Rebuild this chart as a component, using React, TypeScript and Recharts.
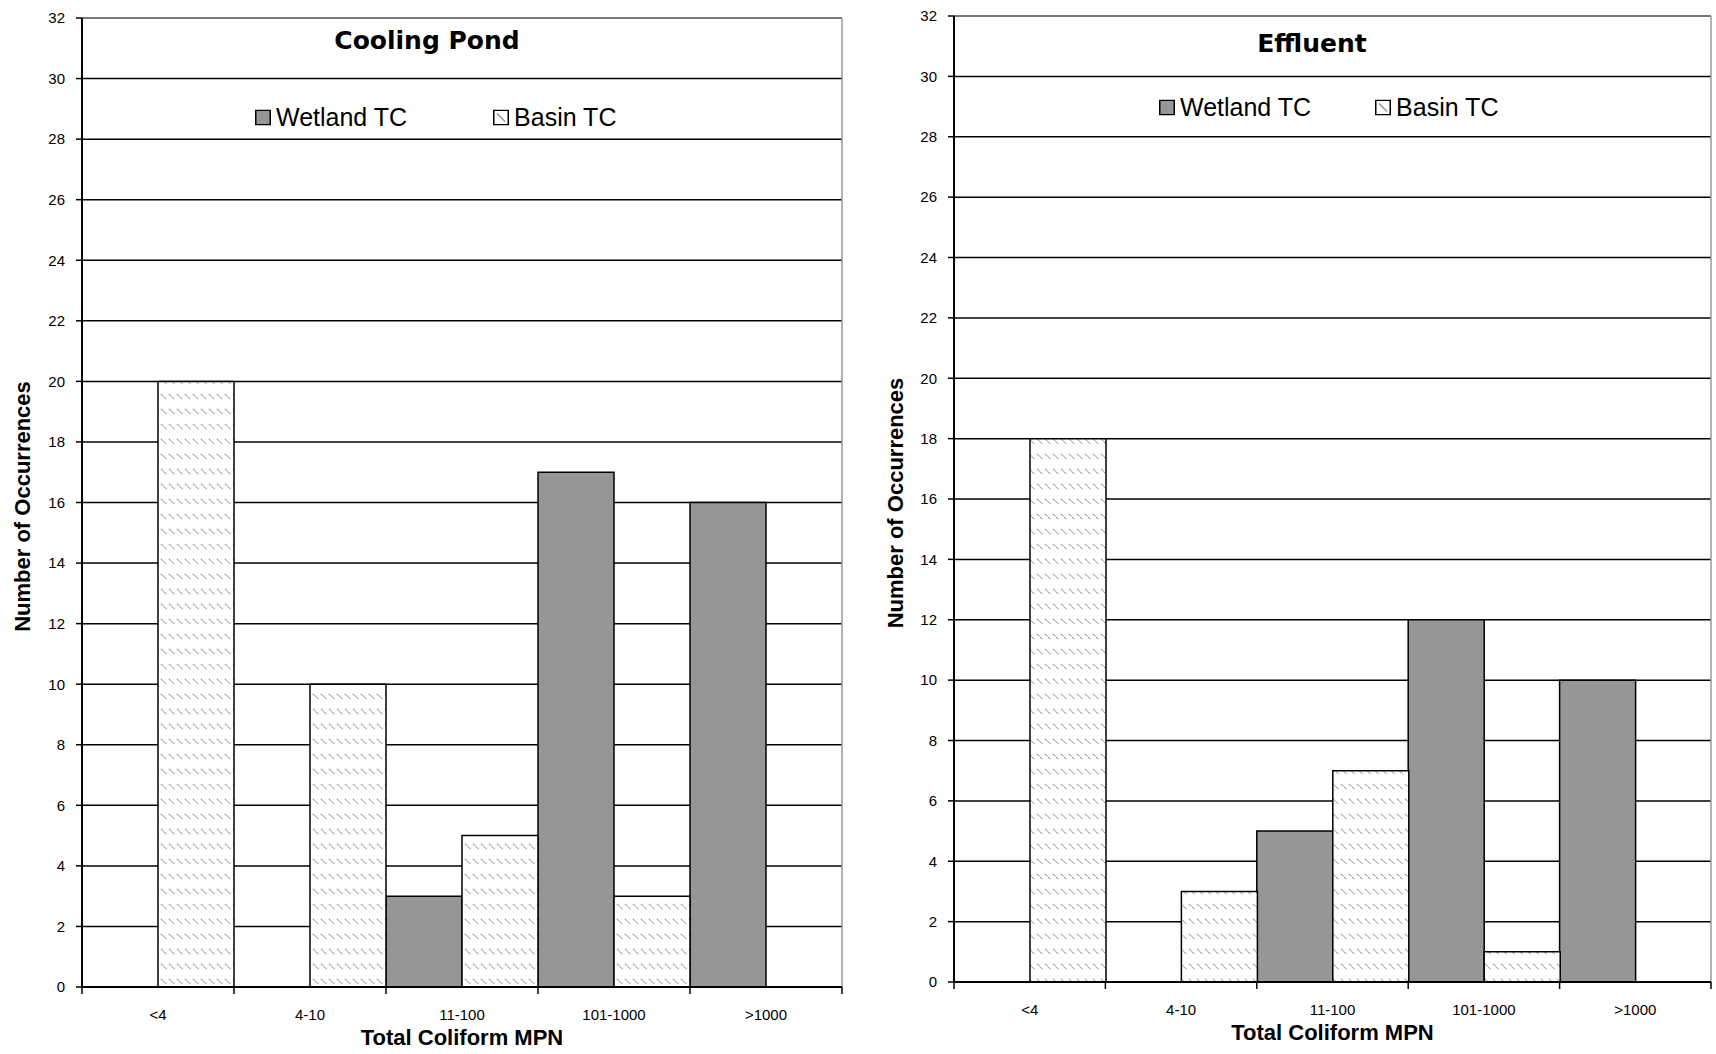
import React from "react";
import { Bar, BarChart, CartesianGrid, ReferenceLine, XAxis, YAxis } from "recharts";

const categories = ["<4", "4-10", "11-100", "101-1000", ">1000"];
const coolingWetland = [0, 0, 3, 17, 16];
const coolingBasin = [20, 10, 5, 3, 0];
const effluentWetland = [0, 0, 5, 12, 10];
const effluentBasin = [18, 3, 7, 1, 0];
const yTicks = [0, 2, 4, 6, 8, 10, 12, 14, 16, 18, 20, 22, 24, 26, 28, 30, 32];
const seriesNames = ["Wetland TC", "Basin TC"];

const ARIAL = "'Liberation Sans', Arial, sans-serif";
const TAHOMA = "'DejaVu Sans', Verdana, sans-serif";

const buildRows = (wetland: number[], basin: number[]) =>
	categories.map((name, i) => ({ name, wetland: wetland[i], basin: basin[i] }));

const makeXTick = (bandWidth: number, count: number) => (props: any) => {
	const { x, y, payload, index } = props;
	const left = x - bandWidth / 2;
	return (
		<g>
			<line x1={left} y1={y} x2={left} y2={y + 7} stroke="#000" strokeWidth={1.5} />
			{index === count - 1 && (
				<line x1={left + bandWidth} y1={y} x2={left + bandWidth} y2={y + 7} stroke="#000" strokeWidth={1.5} />
			)}
			<text x={x} y={y + 27} textAnchor="middle" dominantBaseline="central" fontSize={15} fontFamily={ARIAL} fill="#000">
				{payload.value}
			</text>
		</g>
	);
};

const Swatch = ({ hatched }: { hatched: boolean }) => (
	<svg width={16} height={16} style={{ display: "block" }}>
		<rect x={0.75} y={0.75} width={14.5} height={14.5} fill={hatched ? "#fff" : "#969696"} stroke="#000" strokeWidth={1.5} />
		{hatched && <line x1={4} y1={4} x2={12} y2={12} stroke="#8c8c8c" strokeWidth={1.3} />}
	</svg>
);

interface PanelProps {
	id: string;
	title: string;
	wetland: number[];
	basin: number[];
	left: number;
	width: number;
	top: number;
	right: number;
	yAxisWidth: number;
	xAxisHeight: number;
	titleAt: [number, number];
	legendAt: [number, number];
	legendGap: number;
	yTitleX: number;
}

const Panel = (p: PanelProps) => {
	const height = 1054;
	const plotWidth = p.width - p.right - p.yAxisWidth;
	const bandWidth = plotWidth / categories.length;
	const data = buildRows(p.wetland, p.basin);
	return (
		<div style={{ position: "absolute", left: p.left, top: 0, width: p.width, height }}>
			<BarChart
				width={p.width}
				height={height}
				data={data}
				margin={{ top: p.top, right: p.right, bottom: 0, left: 0 }}
				barCategoryGap={0}
				barGap={0}
			>
				<defs>
					<pattern id={p.id} width={8} height={15} patternUnits="userSpaceOnUse">
						<rect width={8} height={15} fill="#fff" />
						<line x1={1} y1={4} x2={6.5} y2={9} stroke="#999" strokeWidth={1.2} strokeDasharray="1.5 0.6" />
					</pattern>
				</defs>
				<CartesianGrid vertical={false} stroke="#000" strokeWidth={1.5} />
				<CartesianGrid horizontal={false} verticalPoints={[p.width - p.right]} stroke="#9a9a9a" strokeWidth={1.5} />
				<ReferenceLine y={32} stroke="#8a8a8a" strokeWidth={1.5} />
				<XAxis
					dataKey="name"
					height={p.xAxisHeight}
					interval={0}
					tickLine={false}
					tickSize={0}
					tickMargin={0}
					tick={makeXTick(bandWidth, categories.length)}
					axisLine={{ stroke: "#000", strokeWidth: 2 }}
					label={(lp: any) => {
						const vb = lp.viewBox;
						return (
							<text
								x={vb.x + vb.width / 2}
								y={vb.y + 50}
								textAnchor="middle"
								dominantBaseline="central"
								fontSize={22}
								fontWeight="bold"
								fontFamily={ARIAL}
								fill="#000"
							>
								Total Coliform MPN
							</text>
						);
					}}
				/>
				<YAxis
					type="number"
					domain={[0, 32]}
					ticks={yTicks}
					interval={0}
					width={p.yAxisWidth}
					tickSize={6}
					tickMargin={11}
					tickLine={{ stroke: "#000", strokeWidth: 1.5 }}
					axisLine={{ stroke: "#000", strokeWidth: 2 }}
					tick={{ fill: "#000", fontSize: 15, fontFamily: ARIAL }}
					label={(lp: any) => {
						const vb = lp.viewBox;
						const cy = vb.y + vb.height / 2 + 4;
						return (
							<text
								transform={`translate(${p.yTitleX}, ${cy}) rotate(-90)`}
								textAnchor="middle"
								dominantBaseline="central"
								fontSize={22}
								fontWeight="bold"
								fontFamily={ARIAL}
								fill="#000"
							>
								Number of Occurrences
							</text>
						);
					}}
				/>
				<Bar dataKey="wetland" name={seriesNames[0]} fill="#969696" stroke="#000" strokeWidth={1.5} isAnimationActive={false} />
				<Bar dataKey="basin" name={seriesNames[1]} fill={`url(#${p.id})`} stroke="#000" strokeWidth={1.5} isAnimationActive={false} />
			</BarChart>
			<div
				style={{
					position: "absolute",
					left: p.titleAt[0],
					top: p.titleAt[1],
					transform: "translate(-50%, -50%)",
					fontFamily: TAHOMA,
					fontWeight: "bold",
					fontSize: 25,
					whiteSpace: "nowrap",
				}}
			>
				{p.title}
			</div>
			<div
				style={{
					position: "absolute",
					left: p.legendAt[0],
					top: p.legendAt[1],
					transform: "translateY(-50%)",
					display: "flex",
					alignItems: "center",
					gap: p.legendGap,
					fontFamily: ARIAL,
					fontSize: 25,
					whiteSpace: "nowrap",
				}}
			>
				{seriesNames.map((n, i) => (
					<div key={n} style={{ display: "flex", alignItems: "center", gap: 5 }}>
						<Swatch hatched={i === 1} />
						<span>{n}</span>
					</div>
				))}
			</div>
		</div>
	);
};

export default function App() {
	return (
		<div style={{ position: "relative", width: 1716, height: 1054, background: "#fff", overflow: "hidden" }}>
			<style>{"body{margin:0}"}</style>
			<Panel
				id="hatchCooling"
				title="Cooling Pond"
				wetland={coolingWetland}
				basin={coolingBasin}
				left={0}
				width={860}
				top={18}
				right={18}
				yAxisWidth={82}
				xAxisHeight={67}
				titleAt={[427, 40]}
				legendAt={[255, 117]}
				legendGap={86}
				yTitleX={22}
			/>
			<Panel
				id="hatchEffluent"
				title="Effluent"
				wetland={effluentWetland}
				basin={effluentBasin}
				left={860}
				width={856}
				top={16}
				right={5}
				yAxisWidth={94}
				xAxisHeight={72}
				titleAt={[452, 43]}
				legendAt={[299, 107]}
				legendGap={64}
				yTitleX={35}
			/>
		</div>
	);
}
